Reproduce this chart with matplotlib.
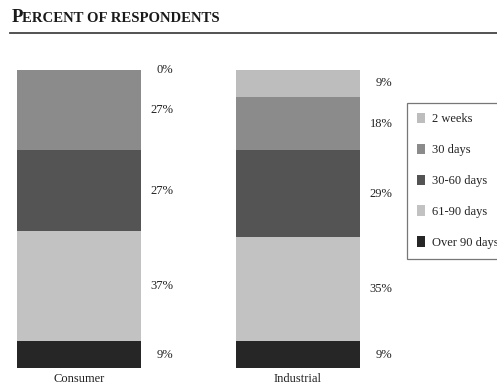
import numpy as np
import matplotlib
matplotlib.use("Agg")
import matplotlib.pyplot as plt
from matplotlib.patches import Patch

groups = ["Consumer", "Industrial"]
periods = ["2 weeks", "30 days", "30-60 days", "61-90 days", "Over 90 days"]
# percent of respondents, bottom segment last
consumer = [0, 27, 27, 37, 9]
industrial = [9, 18, 29, 35, 9]
colors = ["#bdbdbd", "#8b8b8b", "#545454", "#c2c2c2", "#262626"]

plt.rcParams['font.family'] = ['Liberation Serif', 'DejaVu Serif']

fig = plt.figure(figsize=(4.97, 3.87), dpi=100)
W, H = 497, 387

# title in small caps + rule
fig.text(12 / W, 1 - 22 / H, "P", fontsize=13.5, fontweight="bold", color="#1a1a1a")
fig.text(22.5 / W, 1 - 22 / H, "ERCENT OF RESPONDENTS", fontsize=10.6,
         fontweight="bold", color="#1a1a1a")
fig.add_artist(plt.Line2D([10 / W, 1], [1 - 32.5 / H] * 2,
                          transform=fig.transFigure, color="#444444", lw=1.3))

ax = fig.add_axes([0, (H - 368) / H, 1, 298 / H])
ax.set_xlim(-79 / 219, (W - 79) / 219)
ax.set_ylim(0, 100)
ax.axis("off")

x = np.arange(len(groups))
data = np.array([consumer, industrial])
width = 0.57
for i in range(len(groups)):
    bottom = 0
    # stack from bottom (Over 90 days) upwards
    for j in range(len(periods) - 1, -1, -1):
        v = data[i, j]
        ax.bar(x[i], v, width, bottom=bottom, color=colors[j], linewidth=0)
        ax.annotate(f"{v}%", (x[i] + width / 2, bottom + v / 2),
                    xytext=(32, 0), textcoords="offset pixels",
                    ha="right", va="center", fontsize=9, color="#222222")
        bottom += v
    ax.annotate(groups[i], (x[i], 0), xytext=(0, -5), textcoords="offset pixels",
                ha="center", va="top", fontsize=9, color="#222222",
                annotation_clip=False)

handles = [Patch(facecolor=c, edgecolor="none") for c in colors]
leg = fig.legend(handles, periods, loc="upper left",
                 bbox_to_anchor=(407 / W, 1 - 103 / H), fontsize=9,
                 handlelength=0.65, handleheight=0.9, handletextpad=0.55,
                 labelspacing=1.47, borderpad=0.78, fancybox=False,
                 borderaxespad=0)
leg.get_frame().set_edgecolor("#555555")
leg.get_frame().set_linewidth(0.9)
for t in leg.get_texts():
    t.set_color("#222222")

fig.savefig("out.png", dpi=100)
